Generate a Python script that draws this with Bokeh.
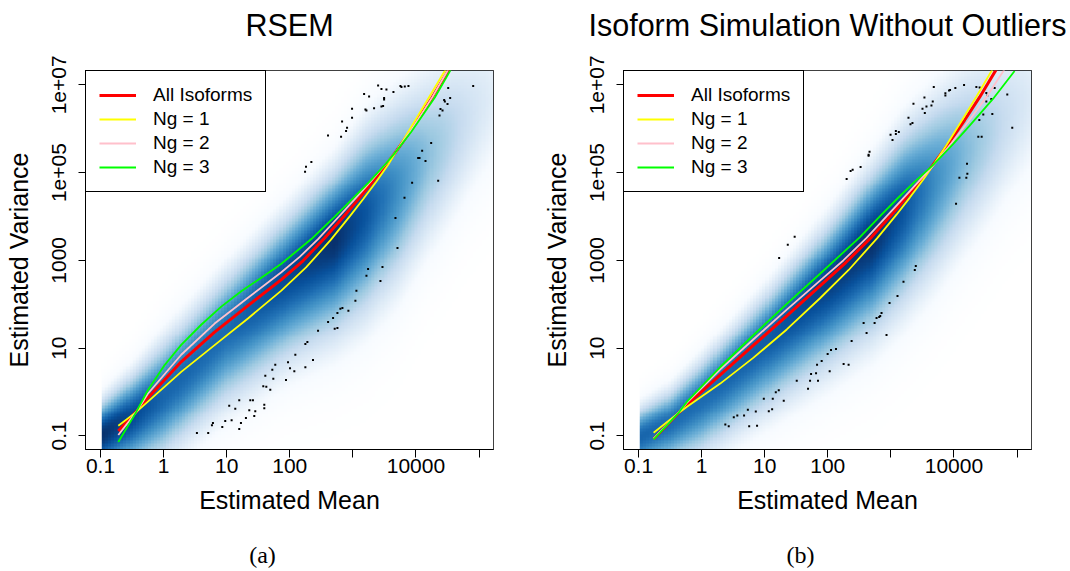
import numpy as np
from bokeh.plotting import figure
from bokeh.layouts import row
from bokeh.models import Range1d, FixedTicker, LogAxis
from bokeh.embed import file_html
from bokeh.resources import INLINE

# ---------------- data (log10 units) ----------------
x_ticks = [0.1, 1, 10, 100, 1000, 10000, 100000]
x_tick_labels = ["0.1", "1", "10", "100", "", "10000", ""]
y_ticks = [0.1, 10, 1000, 100000, 10000000]
y_tick_labels = ["0.1", "10", "1000", "1e+05", "1e+07"]

series_names = ["All Isoforms", "Ng = 1", "Ng = 2", "Ng = 3"]
series_colors = ["#FF0000", "#FFFF00", "#FFC0CB", "#00FF00"]

# Panel (a) RSEM curves
a_red_x = [-0.718, -0.435, -0.250, 0.279, 0.808, 1.337, 1.866, 2.210, 2.554, 2.845, 3.072, 3.294, 3.532, 3.675, 3.892, 4.246, 4.500, 4.600]
a_red_y = [-0.888, -0.449, -0.134, 0.688, 1.365, 1.968, 2.561, 2.991, 3.510, 3.981, 4.367, 4.758, 5.191, 5.463, 5.908, 6.687, 7.297, 7.547]
a_ng1_x = [-0.718, -0.435, 0.279, 0.808, 1.337, 1.866, 2.258, 2.649, 2.950, 3.162, 3.373, 3.559, 3.675, 3.865, 4.193, 4.458, 4.560]
a_ng1_y = [-0.767, -0.459, 0.460, 1.068, 1.676, 2.311, 2.840, 3.466, 4.002, 4.394, 4.799, 5.180, 5.450, 5.897, 6.684, 7.320, 7.570]
a_ng2_x = [-0.718, -0.435, -0.250, 0.279, 0.808, 1.337, 1.866, 2.157, 2.448, 2.776, 3.019, 3.273, 3.516, 3.675, 3.908, 4.262, 4.484, 4.600]
a_ng2_y = [-0.980, -0.459, -0.040, 0.850, 1.560, 2.148, 2.730, 3.079, 3.486, 3.994, 4.378, 4.784, 5.185, 5.463, 5.929, 6.726, 7.281, 7.580]
a_ng3_x = [-0.718, -0.435, -0.250, 0.014, 0.279, 0.596, 0.914, 1.231, 1.548, 1.866, 2.342, 2.712, 2.977, 3.252, 3.506, 3.664, 3.929, 4.299, 4.537, 4.650]
a_ng3_y = [-1.138, -0.459, 0.041, 0.609, 1.073, 1.533, 1.946, 2.295, 2.606, 2.924, 3.486, 3.997, 4.381, 4.780, 5.174, 5.443, 5.936, 6.713, 7.308, 7.600]

# Panel (b) curves
b_red_x = [-0.761, -0.356, -0.232, 0.295, 0.823, 1.350, 1.877, 2.286, 2.694, 3.010, 3.237, 3.458, 3.659, 3.907, 4.170, 4.407, 4.671]
b_red_y = [-1.070, -0.462, -0.295, 0.390, 1.066, 1.735, 2.420, 2.951, 3.531, 4.037, 4.418, 4.798, 5.160, 5.651, 6.198, 6.719, 7.353]
b_ng1_x = [-0.761, -0.356, -0.232, 0.295, 0.823, 1.350, 1.877, 2.331, 2.784, 3.089, 3.300, 3.511, 3.669, 3.880, 4.117, 4.355, 4.618]
b_ng1_y = [-0.930, -0.465, -0.335, 0.192, 0.783, 1.426, 2.137, 2.781, 3.507, 4.041, 4.431, 4.836, 5.160, 5.624, 6.169, 6.728, 7.372]
b_ng2_x = [-0.761, -0.356, -0.232, 0.295, 0.823, 1.350, 1.877, 2.246, 2.615, 2.931, 3.184, 3.432, 3.669, 3.959, 4.249, 4.513, 4.803]
b_ng2_y = [-1.060, -0.453, -0.240, 0.517, 1.203, 1.878, 2.537, 2.998, 3.515, 4.005, 4.397, 4.781, 5.160, 5.668, 6.205, 6.720, 7.358]
b_ng3_x = [-0.761, -0.356, -0.232, 0.295, 0.823, 1.350, 1.877, 2.510, 2.852, 3.116, 3.379, 3.660, 3.986, 4.249, 4.618, 4.961]
b_ng3_y = [-1.077, -0.457, -0.221, 0.570, 1.299, 2.010, 2.695, 3.531, 4.044, 4.427, 4.795, 5.160, 5.649, 6.070, 6.679, 7.314]

# outlier dots (log10 mean, log10 variance)
a_dot_x = [3.400, 3.453, 3.532, 3.754, 3.770, 3.823, 3.881, 3.178, 3.257, 3.495, 3.495, 3.643, 2.987, 3.199, 3.215,
           3.336, 3.453, 3.479, 2.829, 2.987, 2.908, 2.892, 2.606, 2.813, 2.342, 2.257, 2.242, 4.511, 4.907, 4.542,
           4.447, 4.458, 4.500, 4.389, 4.421, 4.373, 4.241, 4.098, 4.035, 4.056, 4.151, 3.939, 4.352, 3.818, 3.675,
           3.707, 3.241, 3.469, 3.215, 3.437, 3.056, 3.040, 2.802, 2.834, 2.755, 2.929, 2.686, 2.607, 2.712, 2.755,
           2.448, 2.247, 2.279, 2.088, 1.972, 2.368, 2.004, 2.247, 2.072, 1.940,
           1.770, 1.723, 1.612, 1.739, 1.580, 1.628, 1.691, 1.040, 1.136, 1.199, 1.374, 1.416, 1.596, 1.596, 1.358, 1.453,
           0.528, 0.707, 0.766, 0.782, 0.930, 0.977, 1.078, 1.199, 1.226, 1.305, 1.437]
a_dot_y = [6.983, 6.907, 6.892, 6.975, 6.952, 6.960, 6.975, 6.793, 6.732, 6.702, 6.664, 6.838, 6.458, 6.436, 6.413,
           6.466, 6.504, 6.519, 6.162, 6.253, 6.025, 5.949, 5.843, 5.820, 5.242, 5.136, 5.022, 6.930, 6.975, 6.702,
           6.656, 6.618, 6.565, 6.451, 6.413, 6.299, 5.675, 5.501, 5.333, 5.333, 5.265, 4.771, 4.816, 4.429, 3.965,
           3.281, 2.802, 2.848, 2.650, 2.528, 2.308, 2.080, 1.897, 1.913, 1.799, 1.852, 1.685, 1.593, 1.441, 1.457,
           1.396, 1.092, 1.137, 0.848, 0.681, 0.727, 0.544, 0.567, 0.476, 0.271,
           0.620, 0.506, 0.370, 0.301, 0.134, 0.119, 0.050, -0.315, -0.383, -0.185, -0.185, -0.185, -0.292, -0.368, -0.414, -0.437,
           -0.932, -0.932, -0.756, -0.704, -0.795, -0.658, -0.642, -0.840, -0.704, -0.590, -0.544]

b_dot_x = [3.680, 4.160, 4.355, 4.407, 4.022, 3.938, 3.922, 3.864, 3.864, 3.532, 3.664, 3.358, 3.643, 3.564, 3.501,
           3.538, 3.279, 3.342, 3.311, 3.126, 3.079, 3.079, 2.995, 3.026, 2.662, 2.647, 2.647, 2.520, 2.394, 2.362,
           2.299, 4.513, 4.529, 4.645, 4.592, 4.513, 4.845, 4.608, 4.465, 4.402, 4.924, 4.386, 4.439, 4.207, 4.212,
           4.086, 4.196, 4.033,
           3.395, 3.379, 3.200, 3.105, 2.979, 2.852, 2.831, 2.815, 2.773, 2.742, 2.568, 2.615, 2.931, 2.378, 2.130,
           2.051, 1.998, 1.903, 2.251, 2.330, 2.030,
           1.366, 1.229, 1.475, 1.830, 1.814, 1.735, 1.508, 1.719, 1.845, 1.687, 1.223, 1.176, 0.986, 1.128, 1.302,
           0.733, 0.859, 1.065, 1.118, 0.376, 0.430, 0.510, 0.566, 0.673, 0.754, 0.879]
b_dot_y = [6.952, 6.998, 6.952, 6.937, 6.930, 6.884, 6.869, 6.808, 6.755, 6.709, 6.618, 6.572, 6.527, 6.504, 6.458,
           6.360, 6.253, 6.132, 6.101, 5.926, 5.949, 5.881, 5.865, 5.744, 5.478, 5.409, 5.386, 5.128, 5.067, 5.037,
           4.855, 6.816, 6.755, 6.930, 6.679, 6.618, 6.778, 6.337, 6.322, 6.200, 6.025, 5.820, 5.820, 5.204, 4.976,
           4.885, 4.885, 4.292,
           2.870, 2.779, 2.513, 2.186, 2.027, 1.799, 1.730, 1.707, 1.685, 1.571, 1.571, 1.343, 1.297, 1.160, 0.978,
           0.955, 0.864, 0.704, 0.636, 0.620, 0.476,
           3.357, 3.053, 3.536, 0.620, 0.430, 0.408, 0.255, 0.255, 0.255, 0.073, 0.043, -0.003, -0.155, -0.155, -0.201,
           -0.406, -0.444, -0.437, -0.391, -0.742, -0.783, -0.576, -0.535, -0.535, -0.783, -0.767]

# smoothed-density band (log10 units)
band_x = [-1.0, -0.5, 0.0, 1.0, 2.0, 2.7, 3.2, 3.7, 4.2, 4.8, 5.3]
a_band_ridge = [-1.0, -0.55, -0.05, 1.4, 2.7, 3.5, 4.1, 4.7, 5.4, 6.2, 6.9]
a_band_up = [0.5, 0.62, 0.8, 0.85, 0.9, 1.0, 1.2, 1.3, 1.3, 1.3, 1.3]
a_band_down = [0.6, 0.8, 0.95, 1.1, 1.25, 1.4, 1.5, 1.5, 1.4, 1.3, 1.3]
a_band_level = [1.0, 0.92, 0.82, 0.8, 0.92, 1.0, 0.88, 0.68, 0.48, 0.3, 0.18]
b_band_ridge = [-1.05, -0.7, -0.15, 1.15, 2.5, 3.5, 4.2, 4.85, 5.5, 6.2, 6.8]
b_band_up = [0.45, 0.5, 0.58, 0.7, 0.85, 1.0, 1.15, 1.25, 1.3, 1.3, 1.3]
b_band_down = [0.55, 0.65, 0.85, 1.05, 1.25, 1.4, 1.45, 1.45, 1.4, 1.3, 1.3]
b_band_level = [0.82, 0.8, 0.8, 0.85, 0.95, 1.0, 0.88, 0.68, 0.5, 0.32, 0.2]

ramp = ["#FFFFFF", "#F7FBFF", "#DEEBF7", "#C6DBEF", "#9ECAE1", "#6BAED6", "#4292C6", "#2171B5", "#08519C", "#08306B"]

FRAME_W = 408
FRAME_H = 379


# ---------------- helpers ----------------
def make_palette(cols, n=256):
    rgb = np.array([[int(c[i:i + 2], 16) for i in (1, 3, 5)] for c in cols], dtype=float)
    pos = np.linspace(0, 1, len(cols))
    t = np.linspace(0, 1, n)
    return np.stack([np.interp(t, pos, rgb[:, k]) for k in range(3)], axis=1).round().astype(np.uint8)


PAL = make_palette(ramp)


def band_image(x0, x1, y0, y1, ridge, up, down, level, nbin=128, rep=4):
    cw = (x1 - x0) / nbin
    ch = (y1 - y0) / nbin
    xc = x0 + (np.arange(nbin) + 0.5) * cw
    yc = y0 + (np.arange(nbin) + 0.5) * ch
    r = np.interp(xc, band_x, ridge)[None, :]
    su = np.interp(xc, band_x, up)[None, :]
    sd = np.interp(xc, band_x, down)[None, :]
    a = np.interp(xc, band_x, level)[None, :]
    d = yc[:, None] - r
    s = np.where(d > 0, su, sd)
    t = np.clip(a * np.exp(-0.5 * (d / s) ** 2), 0, 1)
    idx = np.round(t * 255).astype(int)
    rgb = PAL[idx]
    rgb = np.repeat(np.repeat(rgb, rep, axis=0), rep, axis=1)
    h, w = rgb.shape[:2]
    rgba = np.zeros((h, w, 4), dtype=np.uint8)
    rgba[..., :3] = rgb
    rgba[..., 3] = 255
    return rgba.view(np.uint32).reshape(h, w)


def text_axis(label, font, size, standoff):
    return LogAxis(ticker=FixedTicker(ticks=[]), axis_label=label,
                   axis_line_color=None, major_tick_line_color=None, minor_tick_line_color=None,
                   major_tick_out=0, major_tick_in=0, minor_tick_out=0, minor_tick_in=0,
                   major_label_standoff=0, axis_label_standoff=standoff,
                   axis_label_text_font=font, axis_label_text_font_size=size,
                   axis_label_text_font_style="normal", axis_label_text_color="black")


def panel(title, letter, xr, yr, img_x0, band, curves, dots, border_left, border_right):
    p = figure(x_axis_type="log", y_axis_type="log",
               x_range=Range1d(10 ** xr[0], 10 ** xr[1]), y_range=Range1d(10 ** yr[0], 10 ** yr[1]),
               frame_width=FRAME_W, frame_height=FRAME_H,
               min_border_left=border_left, min_border_right=border_right,
               min_border_top=70, min_border_bottom=122,
               output_backend="svg", toolbar_location=None)
    p.background_fill_color = "white"
    p.border_fill_color = "white"
    p.outline_line_color = "black"
    p.outline_line_width = 1
    p.xgrid.grid_line_color = None
    p.ygrid.grid_line_color = None

    img = band_image(img_x0, xr[1], yr[0], yr[1], *band)
    p.image_rgba(image=[img], x=[10 ** img_x0], y=[10 ** yr[0]],
                 dw=[10 ** xr[1] - 10 ** img_x0], dh=[10 ** yr[1] - 10 ** yr[0]])

    dx, dy = dots
    p.scatter(x=10 ** np.array(dx), y=10 ** np.array(dy), marker="square", size=2,
              fill_color="black", line_color=None)

    widths = [3, 1.8, 1.8, 1.8]
    for (cx, cy), name, col, lw in zip(curves, series_names, series_colors, widths):
        p.line(x=10 ** np.array(cx), y=10 ** np.array(cy), line_color=col, line_width=lw, legend_label=name)

    # axes
    p.xaxis.ticker = FixedTicker(ticks=x_ticks)
    p.xaxis.major_label_overrides = {t: l for t, l in zip(x_ticks, x_tick_labels)}
    p.yaxis.ticker = FixedTicker(ticks=y_ticks)
    p.yaxis.major_label_overrides = {t: l for t, l in zip(y_ticks, y_tick_labels)}
    p.xaxis.axis_label = "Estimated Mean"
    p.yaxis.axis_label = "Estimated Variance"
    for ax in (p.xaxis[0], p.yaxis[0]):
        ax.axis_line_color = "black"
        ax.major_tick_line_color = "black"
        ax.minor_tick_line_color = None
        ax.major_tick_in = 0
        ax.major_label_text_font = "Liberation Sans"
        ax.major_label_text_font_size = "21px"
        ax.major_label_text_color = "black"
        ax.axis_label_text_font = "Liberation Sans"
        ax.axis_label_text_font_size = "25px"
        ax.axis_label_text_font_style = "normal"
        ax.axis_label_text_color = "black"
    p.xaxis.major_tick_out = 8
    p.yaxis.major_tick_out = 7
    p.xaxis.major_label_standoff = 1
    p.yaxis.major_label_standoff = 12
    p.xaxis.axis_label_standoff = 10
    p.yaxis.axis_label_standoff = 17
    p.yaxis.major_label_orientation = "vertical"

    # legend
    lg = p.legend[0]
    lg.location = "top_left"
    lg.margin = 0
    lg.padding = 13
    lg.spacing = 2
    lg.glyph_width = 37
    lg.glyph_height = 20
    lg.label_height = 20
    lg.label_standoff = 17
    lg.label_text_font = "Liberation Sans"
    lg.label_text_font_size = "19px"
    lg.label_text_color = "black"
    lg.border_line_color = "black"
    lg.border_line_width = 1
    lg.border_line_alpha = 1
    lg.background_fill_color = "white"
    lg.background_fill_alpha = 1

    # title above (as an empty axis' label) and panel letter below
    p.add_layout(text_axis(title, "Liberation Sans", "30.5px", 29), "above")
    p.add_layout(text_axis(letter + "\u00a0" * 9, "Liberation Serif", "24px", 25), "below")
    return p


pa = panel("RSEM", "(a)", (-1.238, 5.229), (-1.310, 7.327), -0.98,
           (a_band_ridge, a_band_up, a_band_down, a_band_level),
           [(a_red_x, a_red_y), (a_ng1_x, a_ng1_y), (a_ng2_x, a_ng2_y), (a_ng3_x, a_ng3_y)],
           (a_dot_x, a_dot_y), 85, 42)
pb = panel("Isoform Simulation Without Outliers", "(b)", (-1.238, 5.229), (-1.310, 7.327), -0.98,
           (b_band_ridge, b_band_up, b_band_down, b_band_level),
           [(b_red_x, b_red_y), (b_ng1_x, b_ng1_y), (b_ng2_x, b_ng2_y), (b_ng3_x, b_ng3_y)],
           (b_dot_x, b_dot_y), 88, 39)

layout = row(pa, pb, spacing=0)
open("out.html", "w").write(file_html(layout, INLINE))
